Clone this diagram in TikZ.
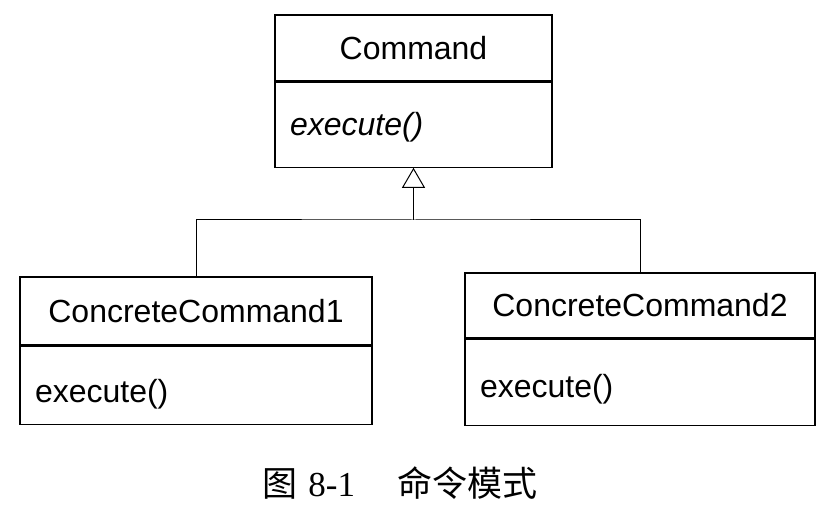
\documentclass[tikz,border=0pt]{standalone}
\usepackage{fontspec}
\setmainfont{Liberation Serif}
\setsansfont{Liberation Sans}
\newfontfamily\cjk{Noto Sans CJK SC}
\usepackage{tikz}
\usetikzlibrary{arrows.meta,positioning}
\tikzstyle{classname}=[rectangle, draw, line width=1.2pt, inner sep=0pt, font=\sffamily\fontsize{32}{36}\selectfont]
\tikzstyle{classops}=[rectangle, draw, line width=1.2pt, inner xsep=15pt, inner ysep=0pt, align=left, anchor=north, font=\sffamily\fontsize{32}{36}\selectfont]
\tikzstyle{inherit}=[line width=1pt, -{Triangle[open, length=20pt, width=23pt]}]
\begin{document}
\begin{tikzpicture}[x=1pt, y=-1pt]
            \useasboundingbox (0,0) rectangle (836,526);
            % abstract command
            \node[classname, minimum width=277pt, minimum height=66pt] (cmd) at (413.5,48) {Command};
            \node[classops, text width=247pt, minimum height=85pt, text height=29pt] (cmdops) at (cmd.south) {\textit{execute()}};
            % concrete commands
            \node[classname, minimum width=352pt, minimum height=68pt] (cc1) at (196,311) {ConcreteCommand1};
            \node[classops, text width=322pt, minimum height=78pt, text height=41pt] (cc1ops) at (cc1.south) {execute()};
            \node[classname, minimum width=350pt, minimum height=65pt] (cc2) at (640,305.5) {ConcreteCommand2};
            \node[classops, text width=320pt, minimum height=86pt, text height=37pt] (cc2ops) at (cc2.south) {execute()};
            \coordinate (bus) at (cmdops.south |- 0,220);
            \draw[line width=1pt] (cc1.north) |- (bus) -| (cc2.north);
            \draw[inherit] (bus) -- (cmdops.south);
            % caption
            \node[font=\fontsize{35}{40}\selectfont] (caption) at (400,483) {\cjk 图\hspace{0.3em}{\rmfamily 8-1}\hspace{1.2em}\cjk 命令模式};
        \end{tikzpicture}
\end{document}
